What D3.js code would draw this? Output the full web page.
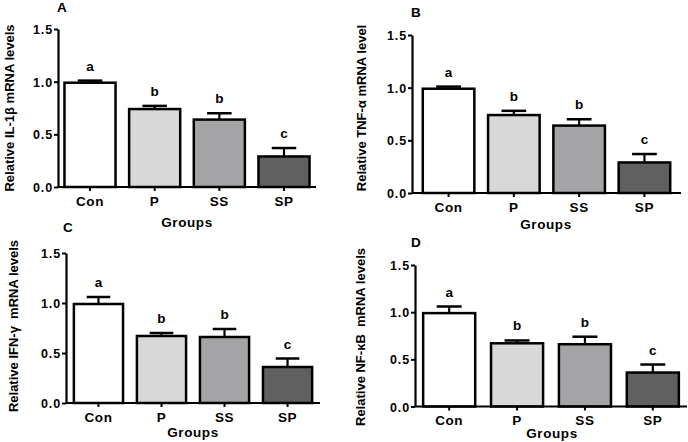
<!DOCTYPE html>
<html>
<head>
<meta charset="utf-8">
<script src="https://cdn.jsdelivr.net/npm/d3@7"></script>
<style>
  html, body { margin: 0; padding: 0; background: #ffffff; }
  svg { display: block; }
  text { font-family: "Liberation Sans", Arial, sans-serif; font-weight: bold; fill: #000; }
</style>
</head>
<body>
<svg id="chart" width="688" height="442"></svg>
<script>
// ---- data ----
const categories = ["Con", "P", "SS", "SP"];
const sigLetters = ["a", "b", "b", "c"];
const yTicks = [0, 0.5, 1.0, 1.5];

const il1bMean = [0.99, 0.74, 0.64, 0.29];
const il1bErr  = [0.02, 0.03, 0.06, 0.08];

const tnfaMean = [0.99, 0.74, 0.64, 0.29];
const tnfaErr  = [0.02, 0.04, 0.06, 0.08];

const ifngMean = [0.99, 0.67, 0.66, 0.36];
const ifngErr  = [0.07, 0.03, 0.08, 0.085];

const nfkbMean = [0.99, 0.67, 0.66, 0.36];
const nfkbErr  = [0.07, 0.03, 0.08, 0.085];

const panelLetters = ["A", "B", "C", "D"];
const yTitles = [
  "Relative IL-1\u03b2 mRNA levels",
  "Relative TNF-\u03b1 mRNA level",
  "Relative IFN-\u03b3  mRNA levels",
  "Relative NF-\u03baB  mRNA levels"
];
const xTitle = "Groups";

// ---- styles / layout ----
const barFill = ["#ffffff", "#d8d8d8", "#a4a4a6", "#606060"];

const panels = [
  { mean: il1bMean, err: il1bErr, x0: 58,  x1: 316, yZero: 187,   yTop: 29,  pIn: 0.21, pOut: 0.10,
    letter: [57, 12],  yTitle: [9, 108],   groups: [187, 227] },
  { mean: tnfaMean, err: tnfaErr, x0: 412, x1: 681, yZero: 193,   yTop: 35,  pIn: 0.21, pOut: 0.165,
    letter: [411, 17], yTitle: [361, 108], groups: [546, 229] },
  { mean: ifngMean, err: ifngErr, x0: 66,  x1: 320, yZero: 403,   yTop: 253, pIn: 0.22, pOut: 0.125,
    letter: [63, 232], yTitle: [13, 326],  groups: [193, 437] },
  { mean: nfkbMean, err: nfkbErr, x0: 415, x1: 687, yZero: 406.5, yTop: 265, pIn: 0.233, pOut: 0.12,
    letter: [411, 247], yTitle: [360, 337], groups: [552, 438] }
];

const svg = d3.select("#chart");

panels.forEach((p, i) => {
  const g = svg.append("g");
  const x = d3.scaleBand().domain(categories).range([p.x0, p.x1])
    .paddingInner(p.pIn).paddingOuter(p.pOut);
  const y = d3.scaleLinear().domain([0, 1.5]).range([p.yZero, p.yTop]);

  const rows = categories.map((c, k) => ({ c, m: p.mean[k], e: p.err[k], l: sigLetters[k], f: barFill[k] }));

  // bars
  g.selectAll("rect.bar").data(rows).join("rect")
    .attr("class", "bar")
    .attr("x", d => x(d.c))
    .attr("y", d => y(d.m))
    .attr("width", x.bandwidth())
    .attr("height", d => y(0) - y(d.m))
    .attr("fill", d => d.f)
    .attr("stroke", "#000")
    .attr("stroke-width", 2.5);

  // error bars (upper only)
  const capW = x.bandwidth() * 0.48;
  g.selectAll("line.err").data(rows).join("line")
    .attr("class", "err")
    .attr("x1", d => x(d.c) + x.bandwidth() / 2)
    .attr("x2", d => x(d.c) + x.bandwidth() / 2)
    .attr("y1", d => y(d.m))
    .attr("y2", d => y(d.m + d.e))
    .attr("stroke", "#000").attr("stroke-width", 2.2);
  g.selectAll("line.cap").data(rows).join("line")
    .attr("class", "cap")
    .attr("x1", d => x(d.c) + x.bandwidth() / 2 - capW / 2)
    .attr("x2", d => x(d.c) + x.bandwidth() / 2 + capW / 2)
    .attr("y1", d => y(d.m + d.e))
    .attr("y2", d => y(d.m + d.e))
    .attr("stroke", "#000").attr("stroke-width", 2.5);

  // significance letters
  g.selectAll("text.sig").data(rows).join("text")
    .attr("class", "sig")
    .attr("x", d => x(d.c) + x.bandwidth() / 2)
    .attr("y", d => y(d.m + d.e) - 10)
    .attr("text-anchor", "middle")
    .attr("font-size", 13.5)
    .text(d => d.l);

  // y axis
  const yAx = g.append("g").attr("transform", `translate(${p.x0},0)`)
    .call(d3.axisLeft(y).tickValues(yTicks).tickFormat(d3.format(".1f")).tickSize(4).tickSizeOuter(0).tickPadding(1));
  yAx.select(".domain").attr("stroke-width", 2.2);
  yAx.selectAll(".tick line").attr("stroke-width", 2);
  yAx.selectAll(".tick text").attr("font-size", 12.5).attr("letter-spacing", "0.9px")
    .attr("font-family", null).attr("dy", "0.36em");

  // x axis
  const xAx = g.append("g").attr("transform", `translate(0,${p.yZero})`)
    .call(d3.axisBottom(x).tickSize(4).tickSizeOuter(0).tickPadding(5));
  xAx.select(".domain").attr("d", `M${p.x0},0H${p.x1}`).attr("stroke-width", 2.2);
  xAx.selectAll(".tick line").attr("stroke-width", 2);
  xAx.selectAll(".tick text").attr("font-size", 13.5).attr("letter-spacing", "0.6px").attr("font-family", null);
  g.selectAll(".tick text").attr("font-weight", "bold").attr("fill", "#000");

  // titles
  g.append("text").attr("x", p.groups[0]).attr("y", p.groups[1])
    .attr("text-anchor", "middle").attr("font-size", 13.5).attr("letter-spacing", "0.6px").text(xTitle);
  g.append("text")
    .attr("transform", `translate(${p.yTitle[0]},${p.yTitle[1]}) rotate(-90)`)
    .attr("text-anchor", "middle").attr("dy", "0.35em")
    .attr("font-size", 13).style("white-space", "pre")
    .text(yTitles[i]);
  g.append("text").attr("x", p.letter[0]).attr("y", p.letter[1])
    .attr("font-size", 13.5).text(panelLetters[i]);
});
</script>
</body>
</html>
